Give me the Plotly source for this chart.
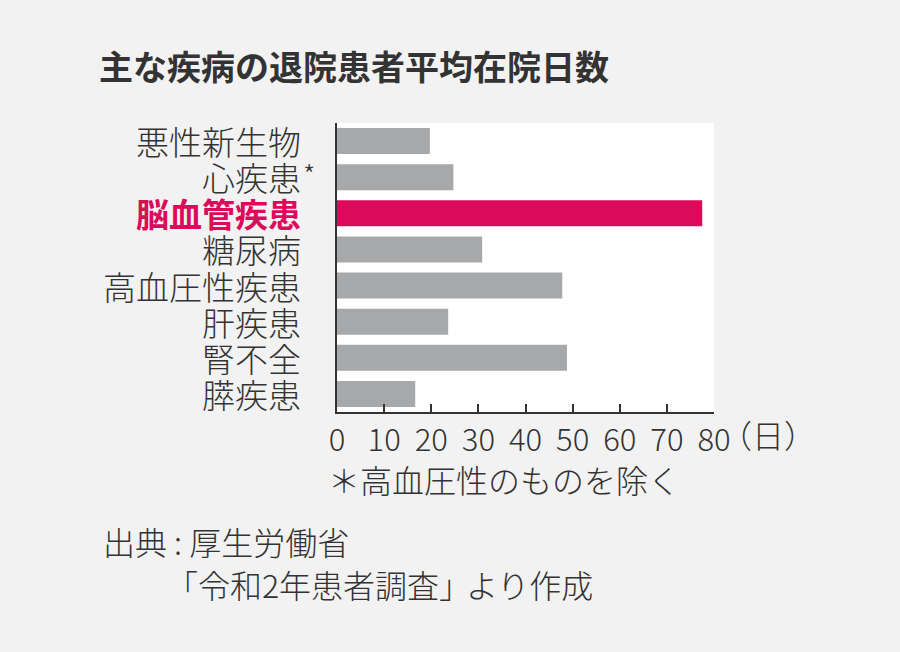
import plotly.graph_objects as go

# データ（令和2年患者調査、読み取り値）
categories = ["悪性新生物", "心疾患", "脳血管疾患", "糖尿病",
              "高血圧性疾患", "肝疾患", "腎不全", "膵疾患"]
days = [19.7, 24.7, 77.5, 30.8, 47.8, 23.6, 48.8, 16.6]
highlight = "脳血管疾患"
x_ticks = [0, 10, 20, 30, 40, 50, 60, 70, 80]

FONT = "Noto Sans CJK JP"
TEXT = "#333333"
PINK = "#dc0a5a"
GRAY = "#a7a8aa"

W, H = 900, 652
L, R, T, B = 337, 186, 123, 240


def px(x):
    return (x - L) / (W - L - R)


def py(y):
    return (H - B - y) / (H - T - B)


bar_colors = [PINK if c == highlight else GRAY for c in categories]

fig = go.Figure()
fig.add_trace(
    go.Bar(
        x=days,
        y=categories,
        orientation="h",
        marker={"color": bar_colors, "line": {"width": 0}},
        width=0.72,
        hoverinfo="x+y",
    )
)

# 縦軸ラベル（注釈で描画）
annotations = []
for c in categories:
    hl = c == highlight
    annotations.append(dict(
        x=0, xref="paper", y=c, yref="y",
        xanchor="right", yanchor="middle", xshift=-34,
        text=f"<b>{c}</b>" if hl else c, showarrow=False,
        font={"family": FONT, "size": 33, "color": PINK if hl else TEXT,
              "weight": 700 if hl else 300},
    ))
annotations.append(dict(
    x=0, xref="paper", y="心疾患", yref="y",
    xanchor="left", yanchor="middle", xshift=-36, yshift=3,
    text="*", showarrow=False,
    font={"family": FONT, "size": 28, "color": TEXT, "weight": 300},
))

texts = [
    ("<b>主な疾病の退院患者平均在院日数</b>", 97, 65, 34, 700),
    ("（日）", 718, 434, 32, 300),
    ("＊高血圧性のものを除く", 326, 479, 32, 300),
    ("出典 : 厚生労働省", 101, 541, 32, 300),
    ("「令和2年患者調査」", 164, 584, 32, 300),
    ("より作成", 464, 584, 32, 300),
]
for t, x, y, s, w in texts:
    annotations.append(dict(
        x=px(x), y=py(y), xref="paper", yref="paper",
        xanchor="left", yanchor="middle", text=t, showarrow=False,
        font={"family": FONT, "size": s, "color": TEXT, "weight": w},
    ))

fig.update_layout(
    width=W, height=H,
    margin={"l": L, "r": R, "t": T, "b": B, "pad": 0},
    paper_bgcolor="#f2f2f2",
    plot_bgcolor="#ffffff",
    showlegend=False,
    bargap=0.28,
    annotations=annotations,
    font={"family": FONT, "color": TEXT},
)
fig.update_xaxes(
    range=[0, 80], tickvals=x_ticks, ticks="inside", ticklen=8,
    tickwidth=1.5, tickcolor=TEXT, showline=True, linecolor=TEXT,
    linewidth=2, showgrid=False, zeroline=False,
    tickfont={"family": FONT, "size": 31, "color": TEXT, "weight": 300},
)
fig.update_yaxes(
    range=[len(categories) - 0.5, -0.5], showticklabels=False, ticks="",
    showline=True, linecolor=TEXT, linewidth=2, showgrid=False,
)

# ページの余白をなくす
fig.write_html(
    "out.html",
    config={"displayModeBar": False},
    post_script="document.body.style.margin='0';",
)
